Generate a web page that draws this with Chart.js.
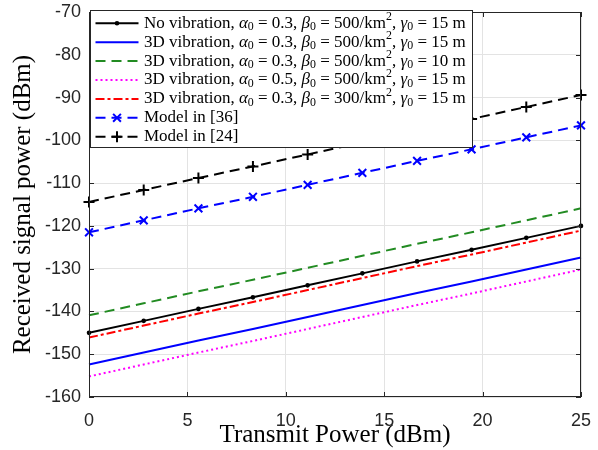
<!DOCTYPE html>
<html>
<head>
<meta charset="utf-8">
<script src="https://cdn.jsdelivr.net/npm/chart.js@4"></script>
<style>
  html, body { margin: 0; padding: 0; background: #fff; }
  #wrap { width: 598px; height: 450px; position: relative; }
</style>
</head>
<body>
<div id="wrap"><canvas id="chart"></canvas></div>
<script>
// transmit power (dBm) at the marker positions
const xValues = [0, 2.78, 5.56, 8.33, 11.11, 13.89, 16.67, 19.44, 22.22, 25];
const xTicks = [0, 5, 10, 15, 20, 25];
const yTicks = [-160, -150, -140, -130, -120, -110, -100, -90, -80, -70];

const seriesLabels = [
  "No vibration, α₀ = 0.3, β₀ = 500/km², γ₀ = 15 m",
  "3D vibration, α₀ = 0.3, β₀ = 500/km², γ₀ = 15 m",
  "3D vibration, α₀ = 0.3, β₀ = 500/km², γ₀ = 10 m",
  "3D vibration, α₀ = 0.5, β₀ = 500/km², γ₀ = 15 m",
  "3D vibration, α₀ = 0.3, β₀ = 300/km², γ₀ = 15 m",
  "Model in [36]",
  "Model in [24]"
];

// received signal power (dBm)
const noVibration = [-145.0, -142.2, -139.4, -136.7, -133.9, -131.1, -128.3, -125.6, -122.8, -120.0];
const vib3dA = [-152.4, -149.6, -146.8, -144.1, -141.3, -138.5, -135.7, -133.0, -130.2, -127.4];
const vib3dGamma10 = [-140.9, -138.1, -135.3, -132.6, -129.8, -127.0, -124.2, -121.5, -118.7, -115.9];
const vib3dAlpha05 = [-155.2, -152.4, -149.6, -146.9, -144.1, -141.3, -138.5, -135.8, -133.0, -130.2];
const vib3dBeta300 = [-146.1, -143.3, -140.5, -137.8, -135.0, -132.2, -129.4, -126.7, -123.9, -121.1];
const model36 = [-121.5, -118.7, -115.9, -113.2, -110.4, -107.6, -104.8, -102.1, -99.3, -96.5];
const model24 = [-114.4, -111.6, -108.8, -106.1, -103.3, -100.5, -97.7, -95.0, -92.2, -89.4];

const toPts = arr => arr.map((v, i) => ({ x: xValues[i], y: v }));

const SERIF = '"Liberation Serif", "DejaVu Serif", serif';
const SANS = '"Liberation Sans", Arial, sans-serif';

function line(label, data, color, dash, pointStyle, radius) {
  return {
    label,
    data: toPts(data),
    borderColor: color,
    backgroundColor: color,
    borderWidth: 2,
    borderDash: dash,
    pointStyle: pointStyle || false,
    pointRadius: radius || 0,
    pointBorderWidth: 2,
    pointBorderColor: color,
    pointBackgroundColor: color,
    tension: 0,
    clip: false
  };
}

const datasets = [
  line(seriesLabels[0], noVibration, "#000000", [], "circle", 1.3),
  line(seriesLabels[1], vib3dA, "#0000ff", []),
  line(seriesLabels[2], vib3dGamma10, "#228b22", [10, 6]),
  line(seriesLabels[3], vib3dAlpha05, "#ff00ff", [2, 3]),
  line(seriesLabels[4], vib3dBeta300, "#ff0000", [9, 3, 3, 3]),
  line(seriesLabels[5], model36, "#0000ff", [10, 6], "crossRot", 5.5),
  line(seriesLabels[6], model24, "#000000", [10, 6], "cross", 5.5)
];

// draws a label with italic greek letters and small sub/superscripts
const subs = { "₀": "0" };
const sups = { "²": "2" };
function drawRich(ctx, text, x, y, size) {
  for (const ch of text) {
    let glyph = ch, dy = 0, font = `${size}px ${SERIF}`;
    if (subs[ch]) { glyph = subs[ch]; font = `${size * 0.7}px ${SERIF}`; dy = size * 0.22; }
    else if (sups[ch]) { glyph = sups[ch]; font = `${size * 0.7}px ${SERIF}`; dy = -size * 0.36; }
    else if ("αβγ".includes(ch)) font = `italic ${size}px ${SERIF}`;
    ctx.font = font;
    ctx.fillText(glyph, x, y + dy);
    x += ctx.measureText(glyph).width;
  }
  return x;
}

const axesBox = {
  id: "axesBox",
  afterDatasetsDraw(chart) {
    const { ctx, chartArea: a, scales: { x, y } } = chart;
    ctx.save();
    ctx.strokeStyle = "#262626";
    ctx.lineWidth = 1;
    ctx.setLineDash([]);
    ctx.beginPath();
    xTicks.forEach(v => {
      const px = Math.round(x.getPixelForValue(v)) + 0.5;
      ctx.moveTo(px, a.bottom); ctx.lineTo(px, a.bottom - 5);
      ctx.moveTo(px, a.top); ctx.lineTo(px, a.top + 5);
    });
    yTicks.forEach(v => {
      const py = Math.round(y.getPixelForValue(v)) + 0.5;
      ctx.moveTo(a.left, py); ctx.lineTo(a.left + 5, py);
      ctx.moveTo(a.right, py); ctx.lineTo(a.right - 5, py);
    });
    ctx.stroke();
    ctx.strokeRect(Math.round(a.left) + 0.5, Math.round(a.top) + 0.5,
      Math.round(a.width) - 1, Math.round(a.height) - 1);
    ctx.restore();
  },
  afterDraw(chart) {
    const ctx = chart.ctx;
    const left = 90.5, top = 10.5, w = 382, h = 137, rowH = 18.9, size = 17;
    ctx.save();
    ctx.fillStyle = "#fff";
    ctx.fillRect(left, top, w, h);
    ctx.strokeStyle = "#262626";
    ctx.lineWidth = 1;
    ctx.strokeRect(left, top, w, h);
    chart.data.datasets.forEach((ds, i) => {
      const cy = top + 12.8 + i * rowH;
      ctx.strokeStyle = ds.borderColor;
      ctx.lineWidth = 2;
      ctx.setLineDash(ds.borderDash);
      ctx.beginPath();
      ctx.moveTo(left + 5, cy);
      ctx.lineTo(left + 48, cy);
      ctx.stroke();
      ctx.setLineDash([]);
      if (ds.pointStyle) {
        ctx.fillStyle = ds.borderColor;
        ctx.strokeStyle = ds.borderColor;
        ctx.lineWidth = 2;
        Chart.helpers.drawPoint(ctx, {
          pointStyle: ds.pointStyle, radius: ds.pointRadius, borderWidth: 2, rotation: 0
        }, left + 26.5, cy);
      }
      ctx.fillStyle = "#000";
      ctx.textBaseline = "middle";
      drawRich(ctx, ds.label, left + 53.5, cy, size);
    });
    ctx.restore();
  }
};

new Chart(document.getElementById("chart"), {
  type: "line",
  data: { datasets },
  plugins: [axesBox],
  options: {
    responsive: true,
    maintainAspectRatio: false,
    animation: false,
    layout: { padding: { left: 0, right: 17, top: 12, bottom: 0 } },
    plugins: { legend: { display: false }, tooltip: { enabled: false } },
    scales: {
      x: {
        type: "linear",
        min: 0,
        max: 25,
        afterBuildTicks: s => { s.ticks = xTicks.map(v => ({ value: v })); },
        afterFit: s => { s.height = 53; s.paddingLeft = 0; s.paddingRight = 0; },
        grid: { color: "#e3e3e3", drawTicks: false },
        border: { display: false },
        ticks: {
          color: "#262626",
          padding: 13,
          maxRotation: 0,
          font: { family: SANS, size: 18 }
        },
        title: {
          display: true,
          text: "Transmit Power (dBm)",
          color: "#000",
          padding: { top: 0, bottom: 0 },
          font: { family: SERIF, size: 25 }
        }
      },
      y: {
        min: -160,
        max: -70,
        afterBuildTicks: s => { s.ticks = yTicks.map(v => ({ value: v })); },
        afterFit: s => { s.width = 89; s.paddingTop = 0; s.paddingBottom = 0; },
        grid: { color: "#e3e3e3", drawTicks: false },
        border: { display: false },
        ticks: {
          color: "#262626",
          padding: 8,
          callback: v => String(v),
          font: { family: SANS, size: 18 }
        },
        title: {
          display: true,
          text: "Received signal power (dBm)",
          color: "#000",
          padding: { top: 8, bottom: 0 },
          font: { family: SERIF, size: 25 }
        }
      }
    }
  }
});
</script>
</body>
</html>
